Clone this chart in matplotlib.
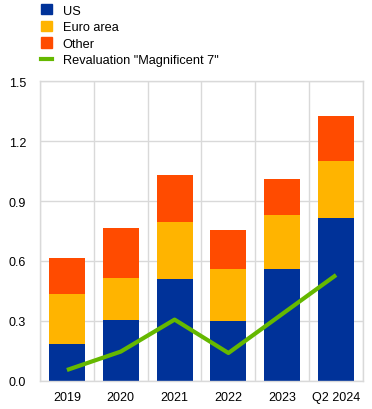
import numpy as np
import matplotlib.pyplot as plt
from matplotlib.patches import Patch
from matplotlib.lines import Line2D

plt.rcParams['font.family'] = ['Liberation Sans', 'DejaVu Sans']

years = ['2019', '2020', '2021', '2022', '2023', 'Q2 2024']
us = [0.185, 0.305, 0.51, 0.30, 0.56, 0.815]
euro_top = [0.435, 0.515, 0.795, 0.56, 0.83, 1.10]
other_top = [0.615, 0.765, 1.03, 0.755, 1.01, 1.325]
mag7 = [0.055, 0.147, 0.307, 0.14, 0.335, 0.53]

euro = [e - u for e, u in zip(euro_top, us)]
other = [o - e for o, e in zip(other_top, euro_top)]

c_us = '#003299'
c_euro = '#FFB400'
c_other = '#FF4B00'
c_line = '#65B800'
grid_c = '#d9d9d9'

fig = plt.figure(figsize=(3.72, 4.10), dpi=100)
ax = fig.add_axes([40/372, 1 - 382/410, 323/372, 300/410])

x = np.arange(len(years))
ax.bar(x, us, width=0.67, color=c_us, zorder=2)
ax.bar(x, euro, width=0.67, bottom=us, color=c_euro, zorder=2)
ax.bar(x, other, width=0.67, bottom=euro_top, color=c_other, zorder=2)
ax.plot(x, mag7, color=c_line, lw=3, zorder=3, solid_capstyle='butt')

ax.set_xlim(-0.5, len(years) - 0.5)
ax.set_ylim(0, 1.5)
ax.set_yticks(np.arange(0, 1.51, 0.3))
ax.set_yticklabels(['%.1f' % v for v in np.arange(0, 1.51, 0.3)])
ax.set_xticks(x)
ax.set_xticklabels(years)
ax.set_xticks(np.arange(-0.5, len(years)), minor=True)
ax.grid(axis='y', color=grid_c, lw=1, zorder=0)
ax.grid(axis='x', which='minor', color=grid_c, lw=1, zorder=0)
ax.tick_params(axis='both', which='both', length=0, labelsize=9, colors='#000000')
ax.tick_params(axis='x', pad=7)
ax.tick_params(axis='y', pad=10)
for s in ax.spines.values():
    s.set_color(grid_c)
    s.set_linewidth(1)

handles = [Patch(color=c_us), Patch(color=c_euro), Patch(color=c_other),
           Line2D([], [], color=c_line, lw=3)]
labels = ['US', 'Euro area', 'Other', 'Revaluation "Magnificent 7"']
fig.legend(handles, labels, loc='upper left', bbox_to_anchor=(36/372, 1),
           frameon=False, fontsize=9.2, handlelength=0.85, handleheight=0.85,
           handletextpad=0.85, labelspacing=0.32, borderaxespad=0)

fig.savefig('out.png', dpi=100)
